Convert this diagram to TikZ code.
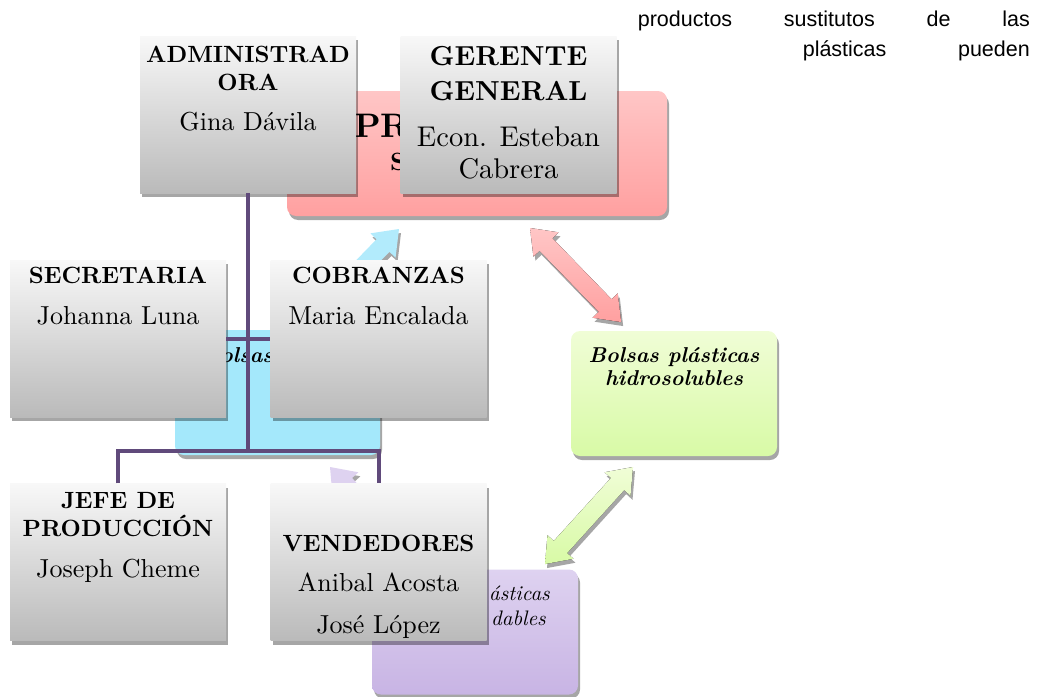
\documentclass[tikz,border=0pt]{standalone}
\usepackage{fontspec}
\setmainfont{lmroman10-regular.otf}[BoldFont=lmroman10-bold.otf, ItalicFont=lmroman10-italic.otf,
  BoldItalicFont=lmroman10-bolditalic.otf]
\newfontfamily\bodysans{Liberation Sans}
\usetikzlibrary{shadows}

\definecolor{orgtop}{RGB}{248,248,248}
\definecolor{orgbot}{RGB}{186,186,186}
\definecolor{pinktop}{RGB}{255,198,198}
\definecolor{pinkbot}{RGB}{255,160,160}
\definecolor{bluefill}{RGB}{164,232,251}
\definecolor{greentop}{RGB}{240,253,214}
\definecolor{greenbot}{RGB}{216,250,166}
\definecolor{lavtop}{RGB}{222,210,240}
\definecolor{lavbot}{RGB}{200,180,228}
\definecolor{linkpurple}{RGB}{96,74,123}

\tikzset{
  orgbox/.style={rectangle, inner sep=0pt, minimum width=216pt, minimum height=157pt,
    top color=orgtop, bottom color=orgbot,
    drop shadow={shadow xshift=2pt, shadow yshift=-4pt, fill=black, opacity=0.35}},
  cyclebox/.style={rectangle, rounded corners=9pt, inner sep=0pt, minimum height=125pt,
    drop shadow={shadow xshift=2pt, shadow yshift=-4pt, fill=black, opacity=0.35}},
  hd/.style={font=\fontsize{23.5}{28}\selectfont\bfseries, anchor=base, inner sep=0pt},
  bighd/.style={font=\fontsize{27.5}{32}\selectfont\bfseries, anchor=base, inner sep=0pt},
  nm/.style={font=\fontsize{26}{30}\selectfont, anchor=base, inner sep=0pt},
  bignm/.style={font=\fontsize{28.5}{33}\selectfont, anchor=base, inner sep=0pt},
  cyctext/.style={font=\fontsize{21.5}{26}\selectfont\bfseries\itshape, anchor=base, inner sep=0pt},
  link/.style={draw=linkpurple, line width=4pt},
  arrowshadow/.style={fill=black, opacity=0.35},
}

\newcommand\cyclearrow[4]{%
  \fill[arrowshadow, shift={(#2+2,#3+4)}, rotate=#4]
    (0,0) -- (23,17.5) -- (23,9) -- (108,9) -- (108,17.5) -- (131,0)
    -- (108,-17.5) -- (108,-9) -- (23,-9) -- (23,-17.5) -- cycle;
  \fill[#1, shift={(#2,#3)}, rotate=#4]
    (0,0) -- (23,17.5) -- (23,9) -- (108,9) -- (108,17.5) -- (131,0)
    -- (108,-17.5) -- (108,-9) -- (23,-9) -- (23,-17.5) -- cycle;}

\begin{document}
\begin{tikzpicture}[x=1pt, y=-1pt]
    \useasboundingbox (0,0) rectangle (1052,696);

    \node[cyclebox, minimum width=380pt, top color=pinktop, bottom color=pinkbot] (pink) at (477,153.5) {};
    \node[cyclebox, minimum width=205pt, fill=bluefill] (blue) at (277.5,392.5) {};
    \node[cyclebox, minimum width=206pt, top color=greentop, bottom color=greenbot] (green) at (674,393.5) {};
    \node[cyclebox, minimum width=206pt, top color=lavtop, bottom color=lavbot] (lav) at (475,632) {};

    \cyclearrow{top color=pinktop, bottom color=pinkbot}{530}{228}{-45.9}
    \cyclearrow{top color=greentop, bottom color=greenbot}{633}{467}{-132.2}
    \cyclearrow{fill=bluefill!85!white}{399}{229}{-134.1}
    \cyclearrow{fill=lavtop}{330}{467}{-47.8}

    \node[font=\fontsize{34}{40}\selectfont\bfseries, anchor=base west, inner sep=0pt] (pink-1) at (354,137) {PR};
    \node[font=\fontsize{25}{30}\selectfont\bfseries, anchor=base west, inner sep=0pt] (pink-2) at (390,170) {S};
    \node[cyctext, anchor=base west] (blue-1) at (220,362) {olsas};
    \node[cyctext] (green-1) at (674,362) {Bolsas plásticas};
    \node[cyctext] (green-2) at (674,385) {hidrosolubles};
    \node[font=\fontsize{21}{25}\selectfont\itshape, anchor=base east, inner sep=0pt] (lav-1) at (550,600) {ásticas};
    \node[font=\fontsize{21}{25}\selectfont\itshape, anchor=base east, inner sep=0pt] (lav-2) at (546,625) {dables};

    \coordinate (bar) at (248,451);
    \node[orgbox] (admin) at (248,114.5) {};
    \node[orgbox] (jefe) at (118,562) {};
    \node[orgbox] (vend) at (378.5,562) {};
    \draw[link] (admin.south) -- (admin.south |- bar);
    \draw[link] (jefe.north) |- (bar) -| (vend.north);
    \node[orgbox] (sec) at (118,338.5) {};
    \node[orgbox] (cob) at (378.5,338.5) {};
    \draw[link] (sec.east) -- (cob.west);
    \node[orgbox] (gerente) at (508.5,114.5) {};

    \node[hd] (admin-1) at (248,62) {ADMINISTRAD};
    \node[hd] (admin-2) at (248,90) {ORA};
    \node[nm] (admin-3) at (248,130) {Gina Dávila};
    \node[bighd] (gerente-1) at (508.5,65) {GERENTE};
    \node[bighd] (gerente-2) at (508.5,100) {GENERAL};
    \node[bignm] (gerente-3) at (508.5,146) {Econ. Esteban};
    \node[bignm] (gerente-4) at (508.5,178) {Cabrera};
    \node[hd] (sec-1) at (118,283) {SECRETARIA};
    \node[nm] (sec-2) at (118,324) {Johanna Luna};
    \node[hd] (cob-1) at (378.5,283) {COBRANZAS};
    \node[nm] (cob-2) at (378.5,324) {Maria Encalada};
    \node[hd] (jefe-1) at (118,508) {JEFE DE};
    \node[hd] (jefe-2) at (118,536) {PRODUCCIÓN};
    \node[nm] (jefe-3) at (118,577) {Joseph Cheme};
    \node[hd] (vend-1) at (378.5,551) {VENDEDORES};
    \node[nm] (vend-2) at (378.5,591) {Anibal Acosta};
    \node[nm] (vend-3) at (378.5,633) {José López};

    \node[font=\bodysans\fontsize{21.5}{25}\selectfont, anchor=base east, inner sep=0pt] (para-1) at (1030,27)
        {\makebox[392pt][s]{productos sustitutos de las}};
    \node[font=\bodysans\fontsize{21.5}{25}\selectfont, anchor=base east, inner sep=0pt] (para-2) at (1030,56)
        {\makebox[227pt][s]{plásticas pueden}};
\end{tikzpicture}
\end{document}
